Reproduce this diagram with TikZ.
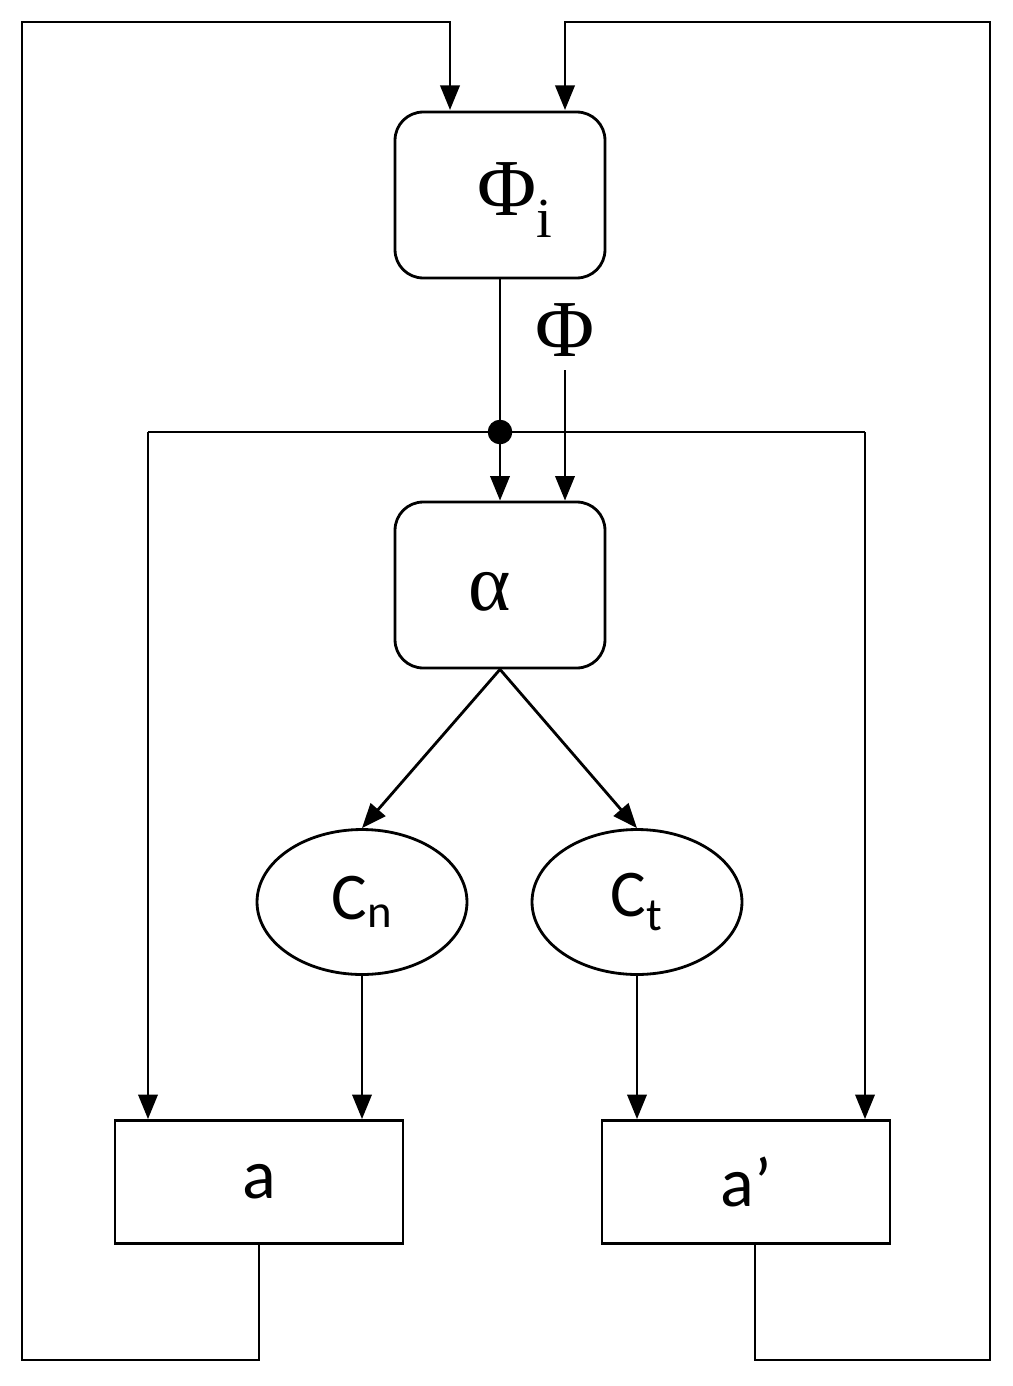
\documentclass[tikz,border=0pt]{standalone}
\usepackage{fontspec}
\newfontfamily\carlito{Carlito}
\newfontfamily\grk{Liberation Serif}
\usetikzlibrary{arrows.meta,shapes.geometric}
\tikzset{
  rbox/.style={draw, rounded corners=16pt, minimum width=4.2cm, minimum height=3.32cm},
  sbox/.style={draw, minimum width=5.76cm, minimum height=2.46cm, font=\carlito\fontsize{40}{40}\selectfont},
  oval/.style={draw, ellipse, minimum width=4.2cm, minimum height=2.9cm, font=\carlito\fontsize{38}{38}\selectfont},
  lbl/.style={font=\grk\fontsize{46}{46}\selectfont, inner sep=2pt},
  arr/.style={-{Triangle[length=14pt,width=11pt]}},
  every path/.style={line width=1.6pt}
}
\begin{document}
\begin{tikzpicture}[x=0.02cm,y=-0.02cm]
  \useasboundingbox (0,0) rectangle (1012,1386);
  % boxes
  \node[rbox] (phii) at (500,195) {};
  \node[lbl] at (515,200) {Φ\textsubscript{i}};
  \node[rbox] (alpha) at (500,585) {};
  \node[lbl] at (490,592) {α};
  \node[oval] (cn) at (362,902) {C\textsubscript{n}};
  \node[oval] (ct) at (637,902) {C\textsubscript{t}};
  \node[sbox] (a) at (259,1182) {a};
  \node[sbox] (ap) at (746,1182) {a’};
  \node[lbl] (phi) at (565,330) {Φ};
  % junction
  \coordinate (j) at (500,432);
  \coordinate (jl) at (148,432);
  \coordinate (jr) at (865,432);
  \fill (j) circle (7pt);
  \draw (phii.south) -- (j);
  \draw[arr] (j) -- (alpha.north);
  \draw[arr] (565,370) -- (alpha.north -| phi.south);
  \draw (jl) -- (jr);
  \draw[arr] (jl) -- (a.north -| jl);
  \draw[arr] (jr) -- (ap.north -| jr);
  % alpha to C
  \draw[arr] (alpha.south) -- (cn.north);
  \draw[arr] (alpha.south) -- (ct.north);
  \draw[arr] (cn.south) -- (a.north -| cn.south);
  \draw[arr] (ct.south) -- (ap.north -| ct.south);
  % feedback loops
  \draw[arr] (a.south) -- (259,1360) -| (22,22) -| (450,110);
  \draw[arr] (755,1245) -- (755,1360) -| (990,22) -| (565,110);
\end{tikzpicture}
\end{document}
